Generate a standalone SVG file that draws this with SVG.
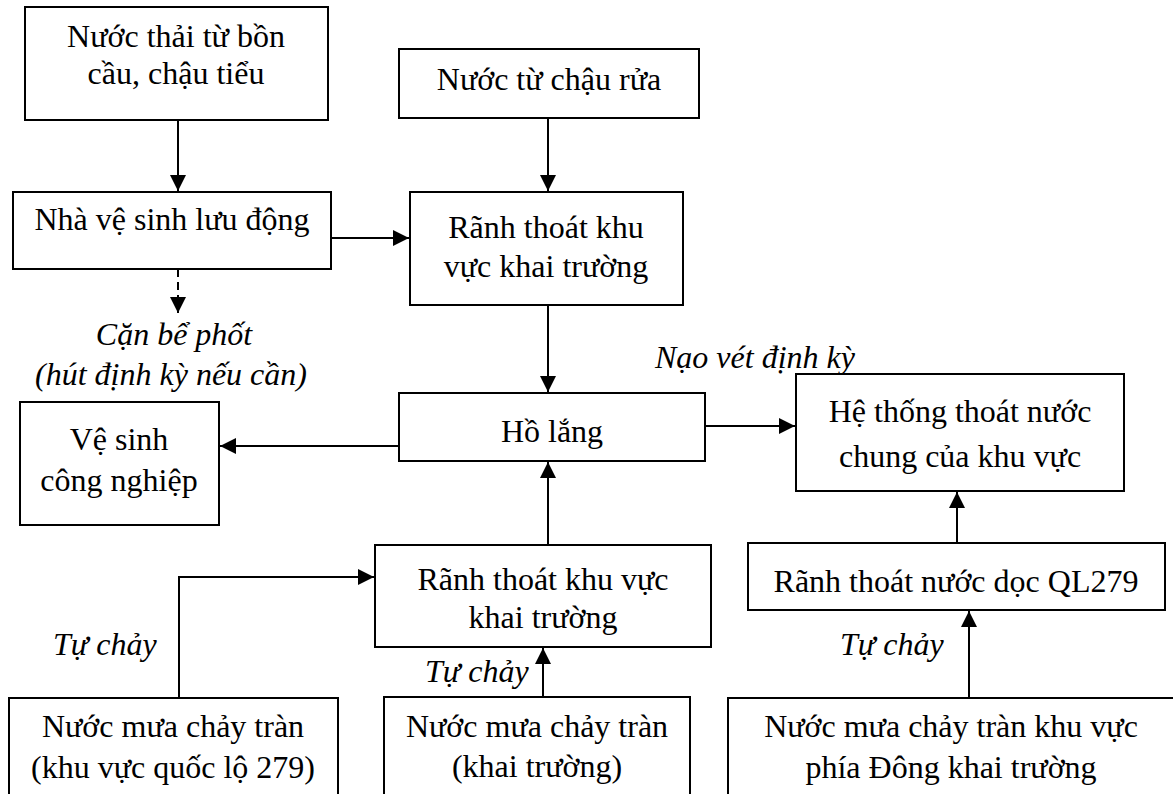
<svg xmlns="http://www.w3.org/2000/svg" width="1173" height="794" viewBox="0 0 1173 794">
<style>
  .box { fill: #ffffff; stroke: #000000; stroke-width: 2; }
  .t { font-family: "Liberation Serif", "Times New Roman", serif; font-size: 32px; fill: #000000; text-anchor: middle; }
  .lbl { font-family: "Liberation Serif", "Times New Roman", serif; font-size: 32px; font-style: italic; fill: #000000; }
  .ln { fill: none; stroke: #000000; stroke-width: 2; marker-end: url(#ah); }
  .dash { stroke-dasharray: 8 5; }
</style>
<defs>
  <marker id="ah" markerUnits="userSpaceOnUse" markerWidth="16" markerHeight="16" refX="16" refY="8" orient="auto">
    <path d="M0,0 L16,8 L0,16 z" fill="#000000"/>
  </marker>
</defs>
<rect width="1173" height="794" fill="#ffffff"/>

<g id="connectors">
  <path class="ln" d="M178,120 L178,191"/>
  <path class="ln" d="M548,118 L548,191"/>
  <path class="ln" d="M331,238 L409,238"/>
  <path class="ln dash" d="M178,269 L178,313"/>
  <path class="ln" d="M548,305 L548,392"/>
  <path class="ln" d="M399,446 L220,446"/>
  <path class="ln" d="M705,426 L795,426"/>
  <path class="ln" d="M548,545 L548,462"/>
  <path class="ln" d="M543,697 L543,648"/>
  <path class="ln" d="M179,698 L179,577 L374,577"/>
  <path class="ln" d="M957,543 L957,492"/>
  <path class="ln" d="M969,698 L969,611"/>
</g>

<g id="labels">
  <text class="lbl" x="174" y="345" text-anchor="middle">Cặn bể phốt</text>
  <text class="lbl" x="171" y="385" text-anchor="middle">(hút định kỳ nếu cần)</text>
  <text class="lbl" x="655" y="368">Nạo vét định kỳ</text>
  <text class="lbl" x="53" y="655">Tự chảy</text>
  <text class="lbl" x="425" y="682">Tự chảy</text>
  <text class="lbl" x="840" y="655">Tự chảy</text>
</g>

<g id="n-nuoc-thai">
  <rect class="box" x="25" y="7" width="303" height="113"/>
  <text class="t" x="176" y="47">Nước thải từ bồn</text>
  <text class="t" x="176" y="84">cầu, chậu tiểu</text>
</g>
<g id="n-nha-ve-sinh">
  <rect class="box" x="13" y="192" width="318" height="77"/>
  <text class="t" x="172" y="230">Nhà vệ sinh lưu động</text>
</g>
<g id="n-chau-rua">
  <rect class="box" x="399" y="49" width="300" height="69"/>
  <text class="t" x="549" y="90">Nước từ chậu rửa</text>
</g>
<g id="n-ranh-1">
  <rect class="box" x="410" y="192" width="273" height="113"/>
  <text class="t" x="546" y="238">Rãnh thoát khu</text>
  <text class="t" x="546" y="277">vực khai trường</text>
</g>
<g id="n-ho-lang">
  <rect class="box" x="399" y="393" width="306" height="68"/>
  <text class="t" x="552" y="442">Hồ lắng</text>
</g>
<g id="n-ve-sinh-cn">
  <rect class="box" x="20" y="402" width="199" height="123"/>
  <text class="t" x="119" y="450">Vệ sinh</text>
  <text class="t" x="119" y="491">công nghiệp</text>
</g>
<g id="n-he-thong">
  <rect class="box" x="796" y="374" width="328" height="117"/>
  <text class="t" x="960" y="422">Hệ thống thoát nước</text>
  <text class="t" x="960" y="467">chung của khu vực</text>
</g>
<g id="n-ranh-2">
  <rect class="box" x="375" y="545" width="336" height="102"/>
  <text class="t" x="543" y="590">Rãnh thoát khu vực</text>
  <text class="t" x="543" y="628">khai trường</text>
</g>
<g id="n-ranh-ql">
  <rect class="box" x="748" y="543" width="417" height="67"/>
  <text class="t" x="956" y="592">Rãnh thoát nước dọc QL279</text>
</g>
<g id="n-mua-ql">
  <rect class="box" x="9" y="698" width="329" height="120"/>
  <text class="t" x="173" y="737">Nước mưa chảy tràn</text>
  <text class="t" x="173" y="778">(khu vực quốc lộ 279)</text>
</g>
<g id="n-mua-kt">
  <rect class="box" x="384" y="697" width="306" height="120"/>
  <text class="t" x="537" y="737">Nước mưa chảy tràn</text>
  <text class="t" x="537" y="777">(khai trường)</text>
</g>
<g id="n-mua-dong">
  <rect class="box" x="728" y="698" width="447" height="120"/>
  <text class="t" x="951" y="737">Nước mưa chảy tràn khu vực</text>
  <text class="t" x="951" y="778">phía Đông khai trường</text>
</g>
</svg>
